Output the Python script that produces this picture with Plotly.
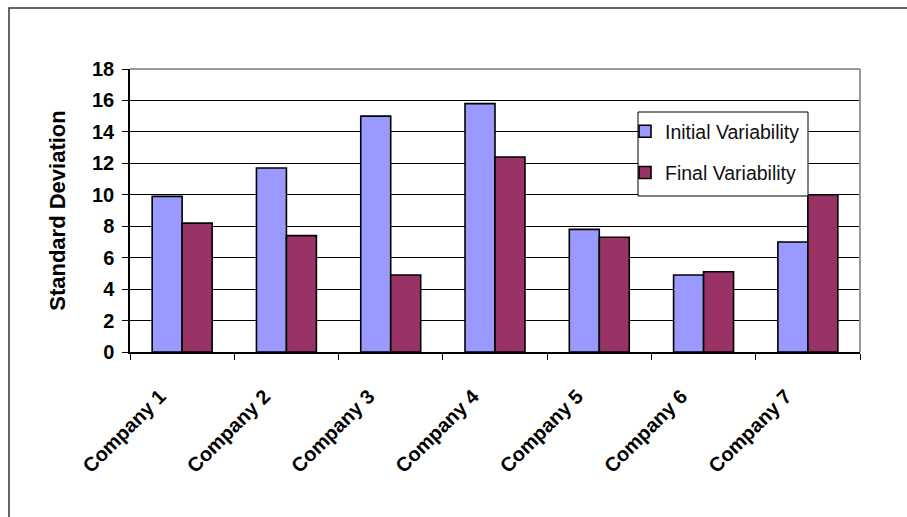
import plotly.graph_objects as go

categories = ["Company 1", "Company 2", "Company 3", "Company 4", "Company 5", "Company 6", "Company 7"]
initial_variability = [9.9, 11.7, 15.0, 15.8, 7.8, 4.9, 7.0]
final_variability = [8.2, 7.4, 4.9, 12.4, 7.3, 5.1, 10.0]
y_ticks = [0, 2, 4, 6, 8, 10, 12, 14, 16, 18]

FONT = "Arial, Liberation Sans, sans-serif"

W, H = 907, 517
L, R, T, B = 130, 47, 69, 165
pw, ph = W - L - R, H - T - B

def px_to_paper_x(px):
    return (px - L) / pw

def px_to_paper_y(py):
    return (H - B - py) / ph

fig = go.Figure()
fig.add_trace(go.Bar(
    x=categories, y=initial_variability, name="Initial Variability",
    marker=dict(color="#9999FF", line=dict(color="black", width=1.6)),
    legendgroup="a",
))
fig.add_trace(go.Bar(
    x=categories, y=final_variability, name="Final Variability",
    marker=dict(color="#993366", line=dict(color="black", width=1.6)),
    legendgroup="b",
))

fig.update_layout(
    width=W, height=H,
    margin=dict(l=L, r=R, t=T, b=B, autoexpand=False),
    paper_bgcolor="white", plot_bgcolor="white",
    barmode="group", bargap=0.425, bargroupgap=0,
    font=dict(family=FONT, color="black"),
    legend=dict(
        x=px_to_paper_x(625), y=px_to_paper_y(112), xanchor="left", yanchor="top",
        borderwidth=0, bgcolor="rgba(0,0,0,0)",
        font=dict(size=19.5, family=FONT, color="#111"),
        traceorder="grouped", tracegroupgap=13,
    ),
    xaxis=dict(
        type="category", tickangle=-45, tickson="boundaries",
        ticks="outside", ticklen=6, tickcolor="black", tickwidth=1,
        showline=True, linecolor="black", linewidth=1.5,
        showgrid=False, ticklabelstandoff=23, ticklabelshift=-22,
        tickfont=dict(size=20, family=FONT, weight="bold"),
    ),
    yaxis=dict(
        range=[0, 18], tickvals=y_ticks,
        ticks="outside", ticklen=6, tickcolor="black", tickwidth=1,
        showline=True, linecolor="black", linewidth=1.5,
        showgrid=True, gridcolor="black", gridwidth=1,
        zeroline=False, ticklabelstandoff=4,
        tickfont=dict(size=20, family=FONT, weight="bold"),
        title=dict(text="Standard Deviation", font=dict(size=22, family=FONT, weight="bold"), standoff=20),
    ),
    shapes=[
        dict(type="line", xref="paper", yref="paper", x0=0, x1=1, y0=1, y1=1,
             line=dict(color="#999999", width=2), layer="above"),
        dict(type="line", xref="paper", yref="paper", x0=1, x1=1, y0=0, y1=1,
             line=dict(color="#999999", width=2), layer="above"),
        dict(type="rect", xref="paper", yref="paper",
             x0=px_to_paper_x(9), x1=px_to_paper_x(1200),
             y0=px_to_paper_y(900), y1=px_to_paper_y(8),
             line=dict(color="#333333", width=1.5), layer="below"),
        dict(type="rect", xref="paper", yref="paper",
             x0=px_to_paper_x(638), x1=px_to_paper_x(808),
             y0=px_to_paper_y(196), y1=px_to_paper_y(112),
             line=dict(color="black", width=1), fillcolor="white", layer="above"),
    ],
)

fig.write_html("out.html")
